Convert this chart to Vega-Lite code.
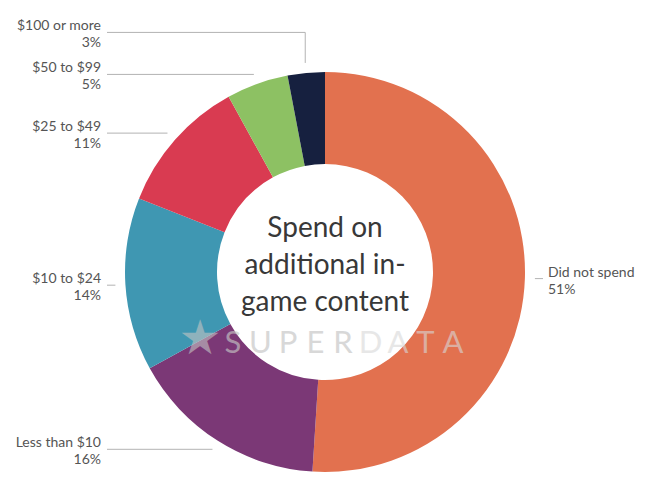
{
  "$schema": "https://vega.github.io/schema/vega-lite/v6.json",
  "width": 650,
  "height": 497,
  "autosize": {"type": "fit", "contains": "padding"},
  "padding": 0,
  "background": "white",
  "config": {"view": {"stroke": null}},
  "data": {
    "values": [
      {"category": "Did not spend", "pct": 51, "order": 1},
      {"category": "Less than $10", "pct": 16, "order": 2},
      {"category": "$10 to $24", "pct": 14, "order": 3},
      {"category": "$25 to $49", "pct": 11, "order": 4},
      {"category": "$50 to $99", "pct": 5, "order": 5},
      {"category": "$100 or more", "pct": 3, "order": 6}
    ]
  },
  "layer": [
    {
      "mark": {"type": "arc", "outerRadius": 200, "innerRadius": 108},
      "encoding": {
        "theta": {"field": "pct", "type": "quantitative", "stack": true},
        "order": {"field": "order", "type": "quantitative"},
        "color": {
          "field": "category",
          "type": "nominal",
          "legend": null,
          "scale": {
            "domain": ["Did not spend", "Less than $10", "$10 to $24", "$25 to $49", "$50 to $99", "$100 or more"],
            "range": ["#E2714F", "#7B3876", "#3F97B2", "#D93B51", "#8DC163", "#16203F"]
          }
        },
        "x": {"datum": 0, "type": "quantitative", "scale": {"domain": [-325, 325], "nice": false, "zero": false}, "axis": null},
        "y": {"datum": 0, "type": "quantitative", "scale": {"domain": [-225, 272], "nice": false, "zero": false}, "axis": null}
      }
    },
    {
      "data": {"values": [{"ch": "S"}, {"ch": "U"}, {"ch": "P"}, {"ch": "E"}, {"ch": "R"}, {"ch": "D"}, {"ch": "A"}, {"ch": "T"}, {"ch": "A"}]},
      "transform": [
        {"window": [{"op": "row_number", "as": "i"}]},
        {"calculate": "-92 + (datum.i - 1) * 27.5", "as": "wx"},
        {"calculate": "datum.i <= 5 ? 'super' : 'data'", "as": "part"}
      ],
      "mark": {"type": "text", "align": "center", "baseline": "alphabetic", "font": "Lato", "fontSize": 31, "dy": 81},
      "encoding": {
        "x": {"field": "wx", "type": "quantitative"},
        "y": {"datum": 0, "type": "quantitative"},
        "text": {"field": "ch"},
        "fill": {"field": "part", "type": "nominal", "legend": null, "scale": {"domain": ["super", "data"], "range": ["#c4c4c4", "#d8d8d8"]}},
        "opacity": {"field": "part", "type": "nominal", "legend": null, "scale": {"domain": ["super", "data"], "range": [0.65, 0.6]}}
      }
    },
    {
      "data": {"values": [{"t": "★"}]},
      "mark": {"type": "text", "align": "center", "baseline": "middle", "font": "DejaVu Sans", "fontSize": 48, "fill": "#c4c4c4", "opacity": 0.6, "dx": -125, "dy": 68},
      "encoding": {
        "x": {"datum": 0, "type": "quantitative"},
        "y": {"datum": 0, "type": "quantitative"},
        "text": {"field": "t"}
      }
    },
    {
      "data": {"values": [{"t": ["Spend on", "additional in-", "game content"]}]},
      "mark": {"type": "text", "align": "center", "baseline": "middle", "font": "Lato", "fontSize": 28, "lineHeight": 37, "fill": "#383838", "dy": -43},
      "encoding": {
        "x": {"datum": 0, "type": "quantitative"},
        "y": {"datum": 0, "type": "quantitative"},
        "text": {"field": "t"}
      }
    },
    {
      "transform": [
        {"window": [{"op": "sum", "field": "pct", "as": "cum"}], "sort": [{"field": "order"}], "frame": [null, 0]},
        {"calculate": "2 * PI * (datum.cum - datum.pct / 2) / 100", "as": "mid"},
        {"calculate": "210 * sin(datum.mid)", "as": "px"},
        {"calculate": "210 * cos(datum.mid)", "as": "py"},
        {"calculate": "datum.px < 0 ? 'left' : 'right'", "as": "side"},
        {"window": [{"op": "lag", "field": "py", "as": "prevPy"}], "groupby": ["side"], "sort": [{"field": "order"}]},
        {"calculate": "isValid(datum.prevPy) ? max(datum.py, datum.prevPy + 42) : datum.py", "as": "ly"},
        {"calculate": "datum.side == 'left' ? -218 : 218", "as": "ex"},
        {"calculate": "datum.side == 'left' ? -224 : 223", "as": "tx"},
        {"calculate": "[datum.category, datum.pct + '%']", "as": "lbl"}
      ],
      "layer": [
        {
          "mark": {"type": "rule", "stroke": "#b3b3b3", "strokeWidth": 1},
          "encoding": {
            "x": {"field": "ex", "type": "quantitative"},
            "x2": {"field": "px"},
            "y": {"field": "ly", "type": "quantitative"},
            "y2": {"field": "ly"}
          }
        },
        {
          "mark": {"type": "rule", "stroke": "#b3b3b3", "strokeWidth": 1},
          "encoding": {
            "x": {"field": "px", "type": "quantitative"},
            "x2": {"field": "px"},
            "y": {"field": "ly", "type": "quantitative"},
            "y2": {"field": "py"}
          }
        },
        {
          "transform": [{"filter": "datum.side == 'left'"}],
          "mark": {"type": "text", "align": "right", "baseline": "alphabetic", "font": "Lato", "fontSize": 14, "lineHeight": 17, "fill": "#555555", "dy": -2},
          "encoding": {
            "x": {"field": "tx", "type": "quantitative"},
            "y": {"field": "ly", "type": "quantitative"},
            "text": {"field": "lbl"}
          }
        },
        {
          "transform": [{"filter": "datum.side == 'right'"}],
          "mark": {"type": "text", "align": "left", "baseline": "alphabetic", "font": "Lato", "fontSize": 14, "lineHeight": 17, "fill": "#555555", "dy": -2},
          "encoding": {
            "x": {"field": "tx", "type": "quantitative"},
            "y": {"field": "ly", "type": "quantitative"},
            "text": {"field": "lbl"}
          }
        }
      ]
    }
  ]
}
